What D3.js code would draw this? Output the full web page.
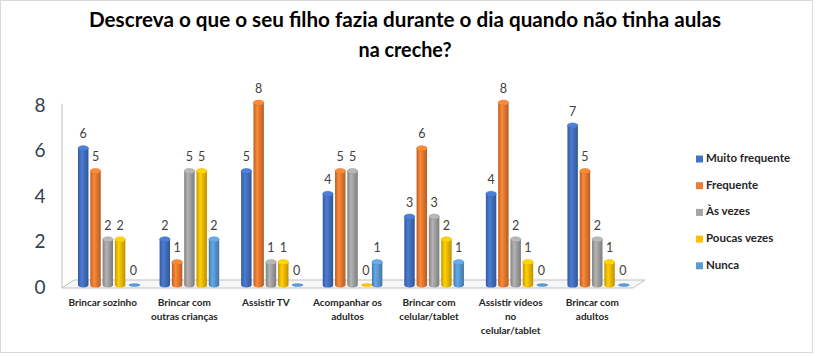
<!DOCTYPE html>
<html>
<head>
<meta charset="utf-8">
<script src="https://cdn.jsdelivr.net/npm/d3@7"></script>
<style>
  body { margin: 0; background: white; }
  text { font-family: Lato, "Open Sans", sans-serif; }
</style>
</head>
<body>
<div id="chart"></div>
<script>
// chart values
const categories = [
    ['Brincar sozinho'],
    ['Brincar com', 'outras crianças'],
    ['Assistir TV'],
    ['Acompanhar os', 'adultos'],
    ['Brincar com', 'celular/tablet'],
    ['Assistir vídeos', 'no', 'celular/tablet'],
    ['Brincar com', 'adultos']
]
const seriesNames = ['Muito frequente', 'Frequente', 'Às vezes', 'Poucas vezes', 'Nunca']
const muitoFrequente = [6, 2, 5, 4, 3, 4, 7]
const frequente = [5, 1, 8, 5, 6, 8, 5]
const asVezes = [2, 5, 1, 5, 3, 2, 2]
const poucasVezes = [2, 5, 1, 0, 2, 1, 1]
const nunca = [0, 2, 0, 1, 1, 0, 0]
const yTicks = [0, 2, 4, 6, 8]

const seriesValues = [muitoFrequente, frequente, asVezes, poucasVezes, nunca]
const colors = ['#4472C4', '#ED7D31', '#A5A5A5', '#FFC000', '#5B9BD5']

const totalWidth = 820
const totalHeight = 356
const plot = { left: 62, right: 633, base: 285, top: 102.7 }
const depth = { dx: 12, dy: -8 }

let svg = d3.select('#chart')
    .append('svg')
    .attr('width', totalWidth)
    .attr('height', totalHeight)

// outer frame
svg.append('rect')
    .attr('x', 0.5).attr('y', 0.5)
    .attr('width', 812).attr('height', 352)
    .attr('fill', 'white')
    .attr('stroke', '#D9D9D9')

// title
let title = svg.append('text')
    .attr('text-anchor', 'middle')
    .attr('font-size', 20)
    .attr('font-weight', 'bold')
    .attr('fill', '#000')
title.append('tspan').attr('x', 405).attr('y', 27)
    .attr('textLength', 632).attr('lengthAdjust', 'spacingAndGlyphs')
    .text('Descreva o que o seu filho fazia durante o dia quando não tinha aulas')
title.append('tspan').attr('x', 405).attr('y', 57)
    .attr('textLength', 93).attr('lengthAdjust', 'spacingAndGlyphs')
    .text('na creche?')

// gradients for cylinders
let defs = svg.append('defs')
colors.forEach((c, i) => {
    let g = defs.append('linearGradient').attr('id', 'cyl' + i)
        .attr('x1', '0%').attr('x2', '100%')
    g.append('stop').attr('offset', '0%').attr('stop-color', d3.color(c).darker(0.7))
    g.append('stop').attr('offset', '35%').attr('stop-color', d3.color(c).brighter(0.25))
    g.append('stop').attr('offset', '100%').attr('stop-color', d3.color(c).darker(0.8))
})

let x0 = d3.scaleBand()
    .domain(d3.range(categories.length))
    .range([plot.left, plot.right])

let x1 = d3.scaleBand()
    .domain(d3.range(seriesNames.length))
    .range([16, 16 + 5 * 12.3 - 0.15 * 12.3])
    .paddingInner(0.15)

let y = d3.scaleLinear()
    .domain([0, 8])
    .range([plot.base, plot.top])

// floor and side wall
let floorY = plot.base + 3
svg.append('path')
    .attr('d', `M${plot.left},${floorY} L${plot.right},${floorY} L${plot.right + depth.dx},${floorY + depth.dy}
        L${plot.left + depth.dx},${floorY + depth.dy} Z`)
    .attr('fill', '#F7F7F7')
    .attr('stroke', '#BFBFBF')
svg.append('line')
    .attr('x1', plot.left).attr('x2', plot.left)
    .attr('y1', y(8) + 1).attr('y2', floorY)
    .attr('stroke', '#BFBFBF')

// y tick labels
svg.selectAll('.ytick')
    .data(yTicks)
    .enter()
    .append('text')
    .attr('x', 40)
    .attr('y', d => y(d) + 4)
    .attr('text-anchor', 'middle')
    .attr('dominant-baseline', 'middle')
    .attr('font-size', 19)
    .attr('fill', '#333F50')
    .text(d => d)

// bars
let bars = []
seriesValues.forEach((vals, s) => {
    vals.forEach((v, c) => bars.push({ s: s, c: c, v: v }))
})

const bw = x1.bandwidth()
const ry = 2.6

let barG = svg.append('g')
bars.forEach(d => {
    let bx = x0(d.c) + x1(d.s)
    let top = y(d.v)
    let g = barG.append('g')
    if (d.v === 0) {
        g.append('ellipse')
            .attr('cx', bx + bw / 2 + 2).attr('cy', plot.base)
            .attr('rx', bw / 2 + 0.5).attr('ry', 1.8)
            .attr('fill', colors[d.s])
        return
    }
    g.append('path')
        .attr('d', `M${bx},${top} L${bx},${plot.base} A${bw / 2},${ry} 0 0 0 ${bx + bw},${plot.base}
            L${bx + bw},${top} Z`)
        .attr('fill', `url(#cyl${d.s})`)
    g.append('ellipse')
        .attr('cx', bx + bw / 2).attr('cy', top)
        .attr('rx', bw / 2).attr('ry', ry)
        .attr('fill', d3.color(colors[d.s]).brighter(0.3))
        .attr('stroke', d3.color(colors[d.s]).darker(0.3))
        .attr('stroke-width', 0.5)
})

// value labels
svg.selectAll('.vlabel')
    .data(bars)
    .enter()
    .append('text')
    .attr('x', d => x0(d.c) + x1(d.s) + bw / 2 + (d.v === 0 ? 1 : 0))
    .attr('y', d => y(d.v) - 13)
    .attr('text-anchor', 'middle')
    .attr('dominant-baseline', 'middle')
    .attr('font-size', 12.5)
    .attr('fill', '#404040')
    .text(d => d.v)

// category labels
let catG = svg.selectAll('.cat')
    .data(categories)
    .enter()
    .append('text')
    .attr('text-anchor', 'middle')
    .attr('font-size', 10)
    .attr('font-weight', 'bold')
    .attr('fill', '#262626')
catG.selectAll('tspan')
    .data((d, i) => d.map(line => ({ line: line, i: i })))
    .enter()
    .append('tspan')
    .attr('x', d => x0(d.i) + x0.bandwidth() / 2)
    .attr('y', (d, j) => 306 + j * 14)
    .text(d => d.line)

// legend
let legend = svg.selectAll('.legend')
    .data(seriesNames)
    .enter()
    .append('g')
    .attr('transform', (d, i) => `translate(696, ${159 + i * 26.7})`)
legend.append('rect')
    .attr('x', 0).attr('y', -3.5)
    .attr('width', 7).attr('height', 7)
    .attr('fill', (d, i) => colors[i])
legend.append('text')
    .attr('x', 10)
    .attr('y', 0)
    .attr('dominant-baseline', 'middle')
    .attr('font-size', 11.5)
    .attr('font-weight', 'bold')
    .attr('fill', '#262626')
    .text(d => d)
</script>
</body>
</html>
